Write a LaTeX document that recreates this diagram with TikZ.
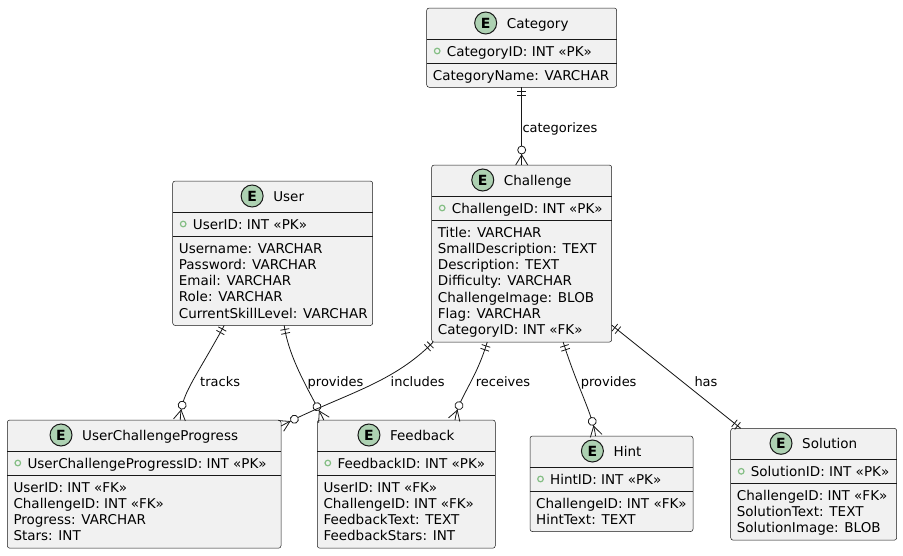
\documentclass[tikz,border=0pt]{standalone}
\usepackage{fontspec}
\setmainfont{DejaVu Sans}
\usetikzlibrary{calc,decorations.markings}

\definecolor{ink}{HTML}{181818}
\definecolor{boxfill}{HTML}{F1F1F1}
\definecolor{badge}{HTML}{ADD1B2}
\definecolor{keymark}{HTML}{84BE84}

\tikzset{
  entitybox/.style={draw=ink, line width=0.5pt, fill=boxfill, rounded corners=2.5pt,
    inner sep=0pt, outer sep=0pt, anchor=north west},
  headrule/.style={draw=ink, line width=0.5pt},
  keyrule/.style={draw=ink, line width=1pt},
  badgecircle/.style={circle, draw=ink, line width=1pt, fill=badge, minimum size=22pt,
    inner sep=0pt, font=\fontsize{14}{14}\selectfont\bfseries},
  titletext/.style={inner sep=0pt, anchor=base, font=\fontsize{13.5}{16}\selectfont},
  fieldtext/.style={inner sep=0pt, anchor=base west, font=\fontsize{13.5}{16}\selectfont},
  relline/.style={draw=ink, line width=0.8pt},
  rellabel/.style={inner sep=0pt, anchor=base west, font=\fontsize{13}{15}\selectfont},
  onestart/.style={postaction={decorate, decoration={markings,
    mark=at position 4pt with {\draw[ink, line width=0.8pt] (0,-4.5pt) -- (0,4.5pt);},
    mark=at position 8pt with {\draw[ink, line width=0.8pt] (0,-4.5pt) -- (0,4.5pt);}}}},
  oneend/.style={postaction={decorate, decoration={markings,
    mark=at position -4pt with {\draw[ink, line width=0.8pt] (0,-4.5pt) -- (0,4.5pt);},
    mark=at position -8pt with {\draw[ink, line width=0.8pt] (0,-4.5pt) -- (0,4.5pt);}}}},
  manyend/.style={postaction={decorate, decoration={markings,
    mark=at position -10pt with {\draw[ink, line width=0.8pt] (0,0) -- (10pt,6pt) (0,0) -- (10pt,-6pt);},
    mark=at position -15pt with {\draw[ink, line width=0.8pt, fill=white] (0,0) circle (4pt);}}}},
}

% #1 name, #2 left, #3 top, #4 width, #5 title, #6 key field, #7 fields, #8 field count
\newcommand\erentity[8]{%
  \pgfmathsetmacro\erheight{63+16.3*#8}
  \node[entitybox, minimum width=#4pt, minimum height=\erheight pt] (#1) at (#2,#3) {};
  \draw[headrule] ($(#1.north west)+(0,31)$) -- ($(#1.north east)+(0,31)$);
  \draw[keyrule] ($(#1.north west)+(0,55)$) -- ($(#1.north east)+(0,55)$);
  \node[titletext] (#1-title) at ($(#1.north)+(16,20)$) {#5};
  \node[badgecircle] (#1-badge) at ($(#1-title.base west)+(-21,-5)$) {E};
  \draw[keymark, line width=1.2pt] ($(#1.north west)+(10.5,43)$) circle (2.8pt);
  \node[fieldtext] (#1-key) at ($(#1.north west)+(20,48)$) {#6};
  \foreach \fieldline [count=\fieldnum] in {#7} {
    \node[fieldtext] (#1-f\fieldnum) at ($(#1.north west)+(6,{72+16.3*(\fieldnum-1)})$) {\fieldline};
  }
}

\begin{document}
\begin{tikzpicture}[x=1pt, y=-1pt]
  \fill[white] (0,0) rectangle (903,555);
  \useasboundingbox (0,0) rectangle (903,555);

  % entities
  \erentity{cat}{426.7}{8}{190}{Category}{CategoryID: INT «PK»}{CategoryName: VARCHAR}{1}
  \erentity{chal}{431.7}{165}{180}{Challenge}{ChallengeID: INT «PK»}%
    {Title: VARCHAR, SmallDescription: TEXT, Description: TEXT, Difficulty: VARCHAR, ChallengeImage: BLOB, Flag: VARCHAR, CategoryID: INT «FK»}{7}
  \erentity{user}{172.7}{181}{200}{User}{UserID: INT «PK»}%
    {Username: VARCHAR, Password: VARCHAR, Email: VARCHAR, Role: VARCHAR, CurrentSkillLevel: VARCHAR}{5}
  \erentity{ucp}{7.3}{420}{273.7}{UserChallengeProgress}{UserChallengeProgressID: INT «PK»}%
    {UserID: INT «FK», ChallengeID: INT «FK», Progress: VARCHAR, Stars: INT}{4}
  \erentity{fb}{317.3}{420}{178}{Feedback}{FeedbackID: INT «PK»}%
    {UserID: INT «FK», ChallengeID: INT «FK», FeedbackText: TEXT, FeedbackStars: INT}{4}
  \erentity{hint}{530}{436}{163}{Hint}{HintID: INT «PK»}%
    {ChallengeID: INT «FK», HintText: TEXT}{2}
  \erentity{sol}{730.7}{428.3}{166}{Solution}{SolutionID: INT «PK»}%
    {ChallengeID: INT «FK», SolutionText: TEXT, SolutionImage: BLOB}{3}

  % relationships
  \draw[relline, onestart, manyend] (cat.south) -- (chal.north);
  \draw[relline, onestart, manyend] ($(user.south west)+(51.5,0)$)
    .. controls +(-30,55) and +(0,-25) .. ($(ucp.north west)+(173,0)$);
  \draw[relline, onestart, manyend] ($(user.south west)+(111.5,0)$)
    .. controls +(5,35) and +(-12,-25) .. ($(fb.north west)+(6.5,0)$);
  \draw[relline, onestart, manyend] ($(chal.south west)+(1.5,0)$)
    .. controls +(-42,43) and +(59,-31) .. ($(ucp.north east)+(0,6)$);
  \draw[relline, onestart, manyend] ($(chal.south west)+(55.5,0)$)
    .. controls +(-12,40) and +(3,-22) .. ($(fb.north west)+(137.7,0)$);
  \draw[relline, onestart, manyend] ($(chal.south west)+(131.5,0)$)
    .. controls +(14,45) and +(-2,-20) .. ($(hint.north west)+(65.5,0)$);
  \draw[relline, onestart, oneend] ($(chal.south east)+(0,-17)$) -- ($(sol.north west)+(10,0)$);

  % relationship labels
  \node[rellabel] (lbl-categorizes) at (522.3,132) {categorizes};
  \node[rellabel] (lbl-tracks) at (200,386) {tracks};
  \node[rellabel] (lbl-userprovides) at (307.5,386) {provides};
  \node[rellabel] (lbl-includes) at (390.5,386) {includes};
  \node[rellabel] (lbl-receives) at (475.7,386) {receives};
  \node[rellabel] (lbl-hintprovides) at (580.7,386) {provides};
  \node[rellabel] (lbl-has) at (694.3,386) {has};
\end{tikzpicture}
\end{document}
